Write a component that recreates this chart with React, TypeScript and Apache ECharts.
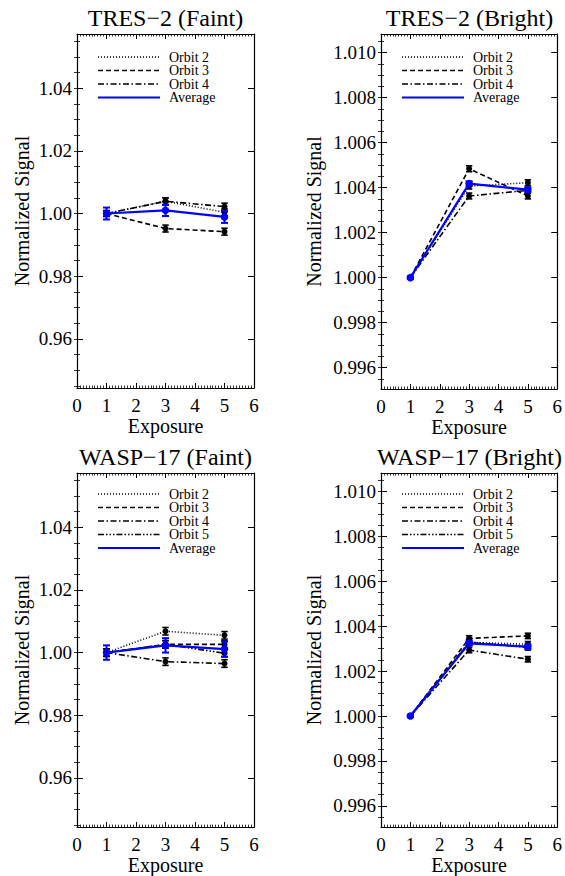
import React, { useEffect, useRef } from "react";
import * as echarts from "echarts";

// ---------- data ----------
const exposures = [1, 3, 5];

const faintTicks = [0.96, 0.98, 1.0, 1.02, 1.04];
const brightTicks = [0.996, 0.998, 1.0, 1.002, 1.004, 1.006, 1.008, 1.01];
const faintRange = [0.9443, 1.0573];
const brightRange = [0.99505, 1.01083];

const panelTitles = ["TRES\u22122 (Faint)", "TRES\u22122 (Bright)", "WASP\u221217 (Faint)", "WASP\u221217 (Bright)"];
const orbitNames = ["Orbit 2", "Orbit 3", "Orbit 4", "Orbit 5"];
const averageName = "Average";

// TRES-2 faint
const tresFaintOrbit2 = [1.0, 1.0039, 1.0004];
const tresFaintOrbit3 = [1.0, 0.9952, 0.9942];
const tresFaintOrbit4 = [1.0, 1.0039, 1.0022];
const tresFaintAverage = [1.0, 1.001, 0.9989];
const tresFaintOrbitErr = [0.0009, 0.0011, 0.0011];
const tresFaintAverageErr = [0.0019, 0.0018, 0.0019];

// TRES-2 bright
const tresBrightOrbit2 = [1.0, 1.00407, 1.00422];
const tresBrightOrbit3 = [1.0, 1.00484, 1.00363];
const tresBrightOrbit4 = [1.0, 1.00363, 1.00388];
const tresBrightAverage = [1.0, 1.00418, 1.00391];
const tresBrightOrbitErr = [0.00005, 0.00013, 0.00013];
const tresBrightAverageErr = [0.00005, 0.0001, 0.0001];

// WASP-17 faint
const waspFaintOrbit2 = [1.0, 1.0068, 1.0055];
const waspFaintOrbit3 = [1.0, 1.0026, 1.0026];
const waspFaintOrbit4 = [1.0, 0.9971, 0.9965];
const waspFaintOrbit5 = [1.0, 1.0026, 0.9998];
const waspFaintAverage = [1.0, 1.0023, 1.0011];
const waspFaintOrbitErr = [0.0012, 0.0012, 0.0012];
const waspFaintAverageErr = [0.0023, 0.0023, 0.0024];

// WASP-17 bright
const waspBrightOrbit2 = [1.0, 1.00328, 1.0032];
const waspBrightOrbit3 = [1.0, 1.00346, 1.00357];
const waspBrightOrbit4 = [1.0, 1.00294, 1.00253];
const waspBrightOrbit5 = [1.0, 1.0033, 1.00306];
const waspBrightAverage = [1.0, 1.00324, 1.00309];
const waspBrightOrbitErr = [0.00005, 0.00012, 0.00012];
const waspBrightAverageErr = [0.00005, 0.0001, 0.0001];

// ---------- styling / layout ----------
const FONT = "Liberation Serif";
const orbitDashes = [
  [1, 2],
  [5, 3],
  [6, 2.5, 1.5, 2.5],
  [6, 2, 1.5, 2, 1.5, 2, 1.5, 2],
];
const grids = [
  { left: 77, top: 34, width: 177, height: 354 },
  { left: 381, top: 34, width: 177, height: 355 },
  { left: 77, top: 473, width: 177, height: 355 },
  { left: 381, top: 473, width: 177, height: 355 },
];

const panels = [
  {
    title: panelTitles[0], faint: true,
    orbits: [tresFaintOrbit2, tresFaintOrbit3, tresFaintOrbit4],
    orbitErr: tresFaintOrbitErr, average: tresFaintAverage, averageErr: tresFaintAverageErr,
    legendTop: 23,
  },
  {
    title: panelTitles[1], faint: false,
    orbits: [tresBrightOrbit2, tresBrightOrbit3, tresBrightOrbit4],
    orbitErr: tresBrightOrbitErr, average: tresBrightAverage, averageErr: tresBrightAverageErr,
    legendTop: 23,
  },
  {
    title: panelTitles[2], faint: true,
    orbits: [waspFaintOrbit2, waspFaintOrbit3, waspFaintOrbit4, waspFaintOrbit5],
    orbitErr: waspFaintOrbitErr, average: waspFaintAverage, averageErr: waspFaintAverageErr,
    legendTop: 21,
  },
  {
    title: panelTitles[3], faint: false,
    orbits: [waspBrightOrbit2, waspBrightOrbit3, waspBrightOrbit4, waspBrightOrbit5],
    orbitErr: waspBrightOrbitErr, average: waspBrightAverage, averageErr: waspBrightAverageErr,
    legendTop: 21,
  },
];

function minorValues(range: number[], step: number) {
  const out: number[] = [];
  const start = Math.ceil(range[0] / step - 1e-9);
  const end = Math.floor(range[1] / step + 1e-9);
  for (let i = start; i <= end; i++) out.push(+(i * step).toFixed(6));
  return out;
}

function errRenderer(color: string, width: number, hw: number) {
  return (params: any, api: any) => {
    const x = api.value(0);
    const y = api.value(1);
    const e = api.value(2);
    const t = api.coord([x, y + e]);
    const b = api.coord([x, y - e]);
    const st = { stroke: color, lineWidth: width };
    return {
      type: "group",
      children: [
        { type: "line", shape: { x1: t[0], y1: t[1], x2: b[0], y2: b[1] }, style: st },
        { type: "line", shape: { x1: t[0] - hw, y1: t[1], x2: t[0] + hw, y2: t[1] }, style: st },
        { type: "line", shape: { x1: b[0] - hw, y1: b[1], x2: b[0] + hw, y2: b[1] }, style: st },
      ],
    };
  };
}

function buildOption() {
  const xAxis: any[] = [];
  const yAxis: any[] = [];
  const series: any[] = [];
  const graphic: any[] = [];

  panels.forEach((p, pi) => {
    const g = grids[pi];
    const range = p.faint ? faintRange : brightRange;
    const majors = p.faint ? faintTicks : brightTicks;
    const minors = minorValues(range, p.faint ? 0.005 : 0.0005);
    const digits = p.faint ? 2 : 3;

    const xBase = {
      type: "value", gridIndex: pi, min: 0, max: 6, interval: 1,
      axisLine: { show: true, onZero: false, lineStyle: { color: "#000", width: 1.2 } },
      axisTick: { show: true, inside: true, length: 5, lineStyle: { color: "#000", width: 1 } },
      minorTick: { show: true, splitNumber: 10, length: 2.5, lineStyle: { color: "#000", width: 0.8 } },
      splitLine: { show: false },
      minorSplitLine: { show: false },
    };
    xAxis.push({
      ...xBase, position: "bottom",
      axisLabel: { show: true, margin: 8, fontSize: 19, fontFamily: FONT, color: "#000" },
      name: "Exposure", nameLocation: "middle", nameGap: 27,
      nameTextStyle: { fontSize: 20, fontFamily: FONT, color: "#000" },
    });
    xAxis.push({ ...xBase, position: "top", axisLabel: { show: false } });

    const yBase = {
      type: "value", gridIndex: pi, min: range[0], max: range[1],
      splitLine: { show: false },
      minorTick: { show: false },
    };
    yAxis.push({
      ...yBase, position: "left",
      axisLine: { show: true, onZero: false, lineStyle: { color: "#000", width: 1.2 } },
      axisTick: { show: true, inside: true, length: 6, customValues: majors, lineStyle: { color: "#000", width: 1 } },
      axisLabel: {
        show: true, customValues: majors, margin: 5, fontSize: 19, fontFamily: FONT, color: "#000",
        formatter: (v: number) => v.toFixed(digits),
      },
      name: "Normalized Signal", nameLocation: "middle", nameGap: p.faint ? 45 : 57,
      nameTextStyle: { fontSize: 20, fontFamily: FONT, color: "#000" },
    });
    yAxis.push({
      ...yBase, position: "right",
      axisLine: { show: true, onZero: false, lineStyle: { color: "#000", width: 1.2 } },
      axisTick: { show: true, inside: true, length: 6, customValues: majors, lineStyle: { color: "#000", width: 1 } },
      axisLabel: { show: false },
    });
    yAxis.push({
      ...yBase, position: "left",
      axisLine: { show: false },
      axisTick: { show: true, inside: true, length: 3, customValues: minors, lineStyle: { color: "#000", width: 0.8 } },
      axisLabel: { show: false },
    });
    yAxis.push({
      ...yBase, position: "right",
      axisLine: { show: false },
      axisTick: { show: true, inside: true, length: 3, customValues: minors, lineStyle: { color: "#000", width: 0.8 } },
      axisLabel: { show: false },
    });

    const xi = pi * 2;
    const yi = pi * 4;

    p.orbits.forEach((vals, oi) => {
      series.push({
        type: "line", name: `${p.title} ${orbitNames[oi]}`,
        xAxisIndex: xi, yAxisIndex: yi,
        data: exposures.map((x, j) => [x, vals[j]]),
        symbol: "circle", symbolSize: 6,
        itemStyle: { color: "#000" },
        lineStyle: { color: "#000", width: 1.6, type: orbitDashes[oi] },
        z: 3,
      });
      series.push({
        type: "custom", name: `${p.title} ${orbitNames[oi]} err`,
        xAxisIndex: xi, yAxisIndex: yi,
        data: exposures.map((x, j) => [x, vals[j], p.orbitErr[j]]),
        encode: { x: 0, y: 1 },
        renderItem: errRenderer("#000", 1.6, 3.2),
        z: 4,
      });
    });
    series.push({
      type: "line", name: `${p.title} ${averageName}`,
      xAxisIndex: xi, yAxisIndex: yi,
      data: exposures.map((x, j) => [x, p.average[j]]),
      symbol: "circle", symbolSize: 7.5,
      itemStyle: { color: "#0000ff" },
      lineStyle: { color: "#0000ff", width: 2.2 },
      z: 5,
    });
    series.push({
      type: "custom", name: `${p.title} ${averageName} err`,
      xAxisIndex: xi, yAxisIndex: yi,
      data: exposures.map((x, j) => [x, p.average[j], p.averageErr[j]]),
      encode: { x: 0, y: 1 },
      renderItem: errRenderer("#0000ff", 2, 3.5),
      z: 6,
    });

    // title
    graphic.push({
      type: "text", x: g.left + g.width / 2, y: g.top - 16,
      style: { text: p.title, fontSize: 24, fontFamily: FONT, fill: "#000", align: "center", verticalAlign: "middle" },
    });

    // legend
    const names = [...orbitNames.slice(0, p.orbits.length), averageName];
    names.forEach((nm, k) => {
      const y = g.top + p.legendTop + k * 13.5;
      const isAvg = k === names.length - 1;
      graphic.push({
        type: "line",
        shape: { x1: g.left + 21, y1: y, x2: g.left + 83, y2: y },
        style: isAvg
          ? { stroke: "#0000ff", lineWidth: 2 }
          : { stroke: "#000", lineWidth: 1.3, lineDash: orbitDashes[k] },
      });
      graphic.push({
        type: "text", x: g.left + 92, y,
        style: { text: nm, fontSize: 14, fontFamily: FONT, fill: "#000", align: "left", verticalAlign: "middle" },
      });
    });
  });

  return {
    animation: false,
    backgroundColor: "#fff",
    textStyle: { fontFamily: FONT },
    grid: grids.map((g) => ({ ...g, containLabel: false })),
    xAxis,
    yAxis,
    series,
    graphic,
  };
}

export default function App() {
  const ref = useRef<HTMLDivElement>(null);
  useEffect(() => {
    document.body.style.margin = "0";
    if (!ref.current) return;
    const chart = echarts.init(ref.current, null, { renderer: "svg" });
    chart.setOption(buildOption() as any);
    return () => chart.dispose();
  }, []);
  return <div ref={ref} style={{ width: 565, height: 876 }} />;
}
